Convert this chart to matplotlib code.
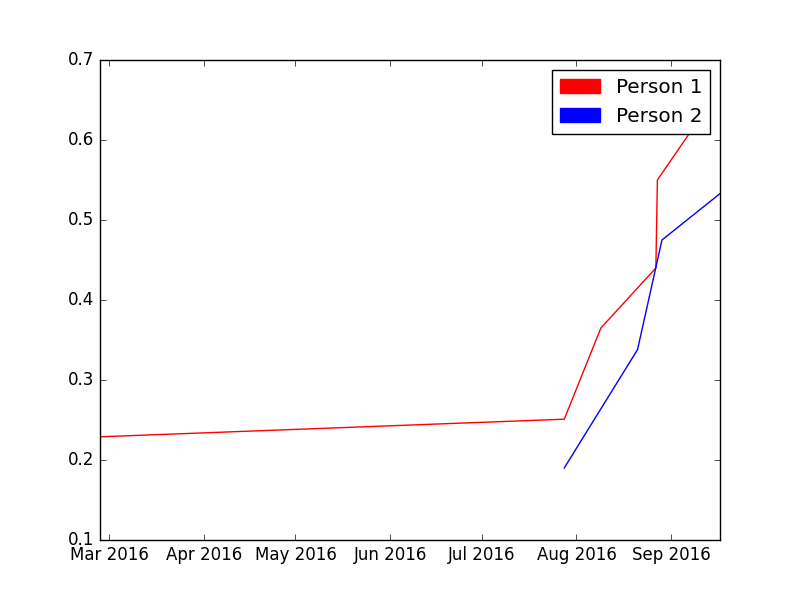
import matplotlib
matplotlib.use("Agg")
import matplotlib.pyplot as plt
import matplotlib.dates as mdates
import matplotlib.patches as mpatches
import numpy as np

plt.style.use('classic')

p1_dates = np.array(['2016-02-27', '2016-07-28', '2016-08-09', '2016-08-27', '2016-08-27T12', '2016-09-10'], dtype='datetime64[h]')
p1_vals = [0.229, 0.251, 0.365, 0.44, 0.55, 0.625]
p2_dates = np.array(['2016-07-28', '2016-08-21', '2016-08-29', '2016-09-17'], dtype='datetime64[h]')
p2_vals = [0.19, 0.338, 0.475, 0.533]

fig = plt.figure(figsize=(8, 6), dpi=100, facecolor='white')
ax = fig.add_subplot(111)
ax.plot(p1_dates.astype('O'), p1_vals, color='red')
ax.plot(p2_dates.astype('O'), p2_vals, color='blue')
ax.set_xlim(np.datetime64('2016-02-27').astype('O'), np.datetime64('2016-09-17').astype('O'))
ax.set_ylim(0.1, 0.7)
ax.xaxis.set_major_locator(mdates.MonthLocator())
ax.xaxis.set_major_formatter(mdates.DateFormatter('%b %Y'))
handles = [mpatches.Patch(color='red', label='Person 1'), mpatches.Patch(color='blue', label='Person 2')]
ax.legend(handles=handles, loc='upper right')
fig.savefig('out.png', facecolor='white')
